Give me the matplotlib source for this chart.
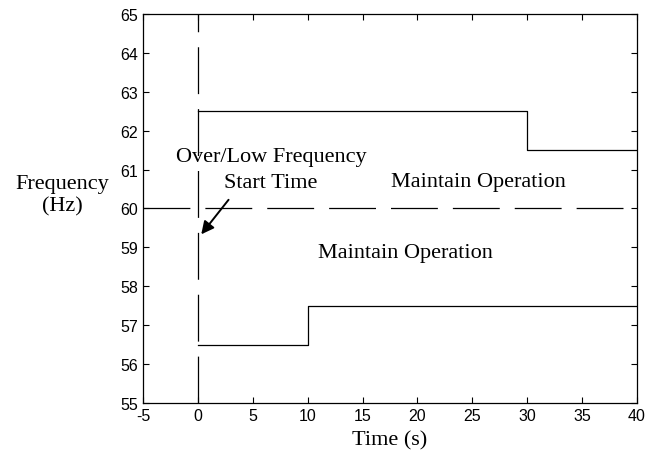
import matplotlib
matplotlib.use("Agg")
import matplotlib.pyplot as plt

# upper and lower frequency limits (step curves)
upper_t = [0, 30, 30, 40]
upper_f = [62.5, 62.5, 61.5, 61.5]
lower_t = [0, 10, 10, 40]
lower_f = [56.5, 56.5, 57.5, 57.5]
nominal_f = 60
start_t = 0

xticks = list(range(-5, 41, 5))
yticks = list(range(55, 66))
xticklabels = [str(t) for t in xticks]  # plain hyphen, like the original

serif = "Liberation Serif"
sans = "Liberation Sans"

fig = plt.figure(figsize=(6.45, 4.52), dpi=100)
ax = fig.add_axes([143 / 645, 1 - 404 / 452, 494 / 645, 389 / 452])

dash = (0, (37.5, 12))
ax.plot(upper_t, upper_f, color="black", lw=0.9)
ax.plot(lower_t, lower_f, color="black", lw=0.9)
ax.axhline(nominal_f, color="black", lw=0.9, linestyle=dash)
ax.axvline(start_t, color="black", lw=0.9, linestyle=dash)

ax.set_xlim(-5, 40)
ax.set_ylim(55, 65)
ax.set_xticks(xticks)
ax.set_xticklabels(xticklabels)
ax.set_yticks(yticks)
ax.tick_params(direction="in", top=True, right=True, length=4,
               labelsize=11.5, width=0.8)
for lab in ax.get_xticklabels() + ax.get_yticklabels():
    lab.set_family(sans)
for s in ax.spines.values():
    s.set_linewidth(0.9)

fs = 16
ax.text(6.66, 61.34, "Over/Low Frequency", family=serif, fontsize=fs,
        ha="center", va="center")
ax.text(6.66, 60.67, "Start Time", family=serif, fontsize=fs,
        ha="center", va="center")
ax.text(25.6, 60.7, "Maintain Operation", family=serif, fontsize=fs,
        ha="center", va="center")
ax.text(18.95, 58.87, "Maintain Operation", family=serif, fontsize=fs,
        ha="center", va="center")
ax.annotate("", xy=(0.15, 59.28), xytext=(2.95, 60.28),
            arrowprops=dict(arrowstyle="-|>", color="black", lw=1.4,
                            mutation_scale=19))

ax.set_xlabel("Time (s)", family=serif, fontsize=fs, labelpad=5)
fig.text(62 / 645, 1 - 196 / 452, "Frequency\n(Hz)", family=serif,
         fontsize=fs, ha="center", va="center", linespacing=1.2)

fig.savefig("out.png", dpi=100)
